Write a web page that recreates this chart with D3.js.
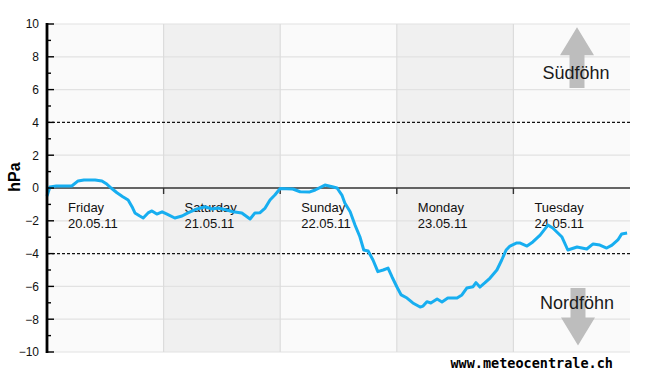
<!DOCTYPE html>
<html><head><meta charset="utf-8">
<script src="https://cdn.jsdelivr.net/npm/d3@7"></script>
<style>body{margin:0;background:#fff}svg{display:block}</style>
</head><body>
<svg id="c" width="650" height="375"></svg>
<script>
const hours = [0,0.6,1.9,3.7,5.1,6.4,7.6,9.9,11.3,12.3,13.2,14.4,15.6,16.7,17.5,18.1,19.1,19.8,20.8,21.6,22.6,23.7,24.7,26.3,27.8,29.0,30.9,32.5,34.0,35.2,37.0,38.3,40.1,41.8,42.8,43.8,44.9,45.9,46.9,48.0,50.6,52.1,54.1,55.2,57.2,58.7,59.7,60.7,61.3,62.4,63.4,64.4,65.2,66.1,67.1,68.1,69.2,70.2,71.0,72.0,72.9,74.1,75.3,76.8,77.4,78.2,79.0,80.3,81.3,82.5,84.4,85.4,86.4,87.7,88.3,89.1,90.1,91.2,92.6,93.6,94.5,95.3,96.7,97.3,98.8,100.0,101.5,103.1,104.1,106.0,107.2,109.1,111.1,112.4,113.8,115.2,116.3,117.5,118.3,119.4];
const pressure = [-0.49,0.06,0.12,0.12,0.12,0.43,0.49,0.49,0.43,0.24,0,-0.29,-0.53,-0.73,-1.14,-1.52,-1.71,-1.83,-1.52,-1.40,-1.59,-1.45,-1.59,-1.83,-1.71,-1.52,-1.28,-1.14,-1.28,-1.22,-1.34,-1.45,-1.52,-1.89,-1.52,-1.51,-1.22,-0.73,-0.43,-0.03,-0.06,-0.23,-0.24,-0.12,0.18,0.08,0,-0.43,-0.91,-1.45,-2.26,-2.97,-3.78,-3.84,-4.39,-5.10,-5.0,-4.88,-5.41,-6.02,-6.52,-6.71,-7.01,-7.26,-7.2,-6.93,-7.01,-6.77,-6.95,-6.71,-6.71,-6.52,-6.10,-6.02,-5.77,-6.04,-5.79,-5.49,-5.0,-4.39,-3.78,-3.54,-3.35,-3.35,-3.54,-3.29,-2.87,-2.26,-2.44,-2.99,-3.78,-3.60,-3.72,-3.41,-3.48,-3.66,-3.48,-3.17,-2.80,-2.74];
const dayNames = ["Friday","Saturday","Sunday","Monday","Tuesday"];
const dayDates = ["20.05.11","21.05.11","22.05.11","23.05.11","24.05.11"];
const yTicks = [-10,-8,-6,-4,-2,0,2,4,6,8,10];
const threshold = 4;

const svg = d3.select("#c");
const x = d3.scaleLinear().domain([0,120]).range([47,630]);
const y = d3.scaleLinear().domain([-10,10]).range([352,24]);

// backgrounds
svg.selectAll("rect.day").data(dayNames).enter().append("rect")
  .attr("x",(d,i)=>x(i*24)).attr("y",y(10))
  .attr("width",(d,i)=>x((i+1)*24)-x(i*24)).attr("height",y(-10)-y(10))
  .attr("fill",(d,i)=> i%2===1 ? "#f0f0f0" : "#fafafa");

// horizontal grid
svg.selectAll("line.hg").data(yTicks.filter(v=>v!==0 && Math.abs(v)!==threshold)).enter().append("line")
  .attr("x1",x(0)).attr("x2",x(120)).attr("y1",d=>y(d)).attr("y2",d=>y(d))
  .attr("stroke","#e2e2e2").attr("stroke-width",1.2);
// vertical day separators
svg.selectAll("line.vg").data([1,2,3,4]).enter().append("line")
  .attr("x1",d=>x(d*24)).attr("x2",d=>x(d*24)).attr("y1",y(10)).attr("y2",y(-10))
  .attr("stroke","#dcdcdc").attr("stroke-width",1.2);

// threshold dashed lines
svg.selectAll("line.th").data([threshold,-threshold]).enter().append("line")
  .attr("x1",x(0)).attr("x2",x(120)).attr("y1",d=>y(d)).attr("y2",d=>y(d))
  .attr("stroke","#111").attr("stroke-width",1.2).attr("stroke-dasharray","3,2");

// zero line
svg.append("line").attr("x1",x(0)).attr("x2",x(120)).attr("y1",y(0)).attr("y2",y(0))
  .attr("stroke","#333").attr("stroke-width",1.6);
svg.selectAll("line.zt").data([1,2,3,4]).enter().append("line")
  .attr("x1",d=>x(d*24)).attr("x2",d=>x(d*24)).attr("y1",y(0)).attr("y2",y(0)+6)
  .attr("stroke","#333").attr("stroke-width",1.4);

// arrows
function arrow(cx, tipY, headY, tailY){
  const hw=17, sw=7.5;
  svg.append("path")
    .attr("d",`M${cx},${tipY}L${cx+hw},${headY}L${cx+sw},${headY}L${cx+sw},${tailY}L${cx-sw},${tailY}L${cx-sw},${headY}L${cx-hw},${headY}Z`)
    .attr("fill","#bdbdbd");
}
arrow(577, y(9.8), y(8.1), y(6.1));
arrow(578, y(-9.6), y(-7.9), y(-6.1));
svg.append("text").attr("x",576).attr("y",79).attr("text-anchor","middle")
  .attr("font-family","Liberation Sans, Arial, sans-serif").attr("font-size",18).attr("fill","#1a1a1a").text("Südföhn");
svg.append("text").attr("x",577).attr("y",309).attr("text-anchor","middle")
  .attr("font-family","Liberation Sans, Arial, sans-serif").attr("font-size",18).attr("fill","#1a1a1a").text("Nordföhn");

// day labels
const dl = svg.selectAll("g.dl").data(dayNames).enter().append("g")
  .attr("transform",(d,i)=>`translate(${x(i*24)+21},0)`)
  .attr("font-family","Liberation Sans, Arial, sans-serif").attr("font-size",13).attr("fill","#111");
dl.append("text").attr("y",212).text(d=>d);
dl.append("text").attr("y",228).text((d,i)=>dayDates[i]);

// line
const data = hours.map((h,i)=>[h,pressure[i]]);
svg.append("path").datum(data)
  .attr("d",d3.line().x(d=>x(d[0])).y(d=>y(d[1])))
  .attr("fill","none").attr("stroke","#17aef0").attr("stroke-width",3).attr("stroke-linejoin","round");

// y axis
const yAxis = d3.axisLeft(y).tickValues(yTicks).tickSize(0).tickPadding(8).tickFormat(d=>d<0?"\u2212"+Math.abs(d):d);
const ga = svg.append("g").attr("transform",`translate(${x(0)},0)`).call(yAxis);
ga.select(".domain").remove();
ga.selectAll("text").attr("font-family","Liberation Sans, Arial, sans-serif").attr("font-size",12).attr("fill","#111");
svg.append("line").attr("x1",x(0)).attr("x2",x(0)).attr("y1",y(10)-1).attr("y2",y(-10)+1)
  .attr("stroke","#000").attr("stroke-width",2.8);
svg.selectAll("line.yt").data(d3.range(-10,11)).enter().append("line")
  .attr("x1",x(0)).attr("x2",d=>x(0)+(d%2===0?7:4)).attr("y1",d=>y(d)).attr("y2",d=>y(d))
  .attr("stroke","#000").attr("stroke-width",1.4);
svg.append("text").attr("transform",`translate(20,177) rotate(-90)`).attr("text-anchor","middle")
  .attr("font-family","Liberation Sans, Arial, sans-serif").attr("font-weight","bold").attr("font-size",16).attr("fill","#000").text("hPa");

// watermark
svg.append("text").attr("x",613).attr("y",368).attr("text-anchor","end")
  .attr("font-family","DejaVu Sans Mono, monospace").attr("font-weight","bold").attr("font-size",13.5).attr("fill","#000")
  .text("www.meteocentrale.ch");
</script>
</body></html>
